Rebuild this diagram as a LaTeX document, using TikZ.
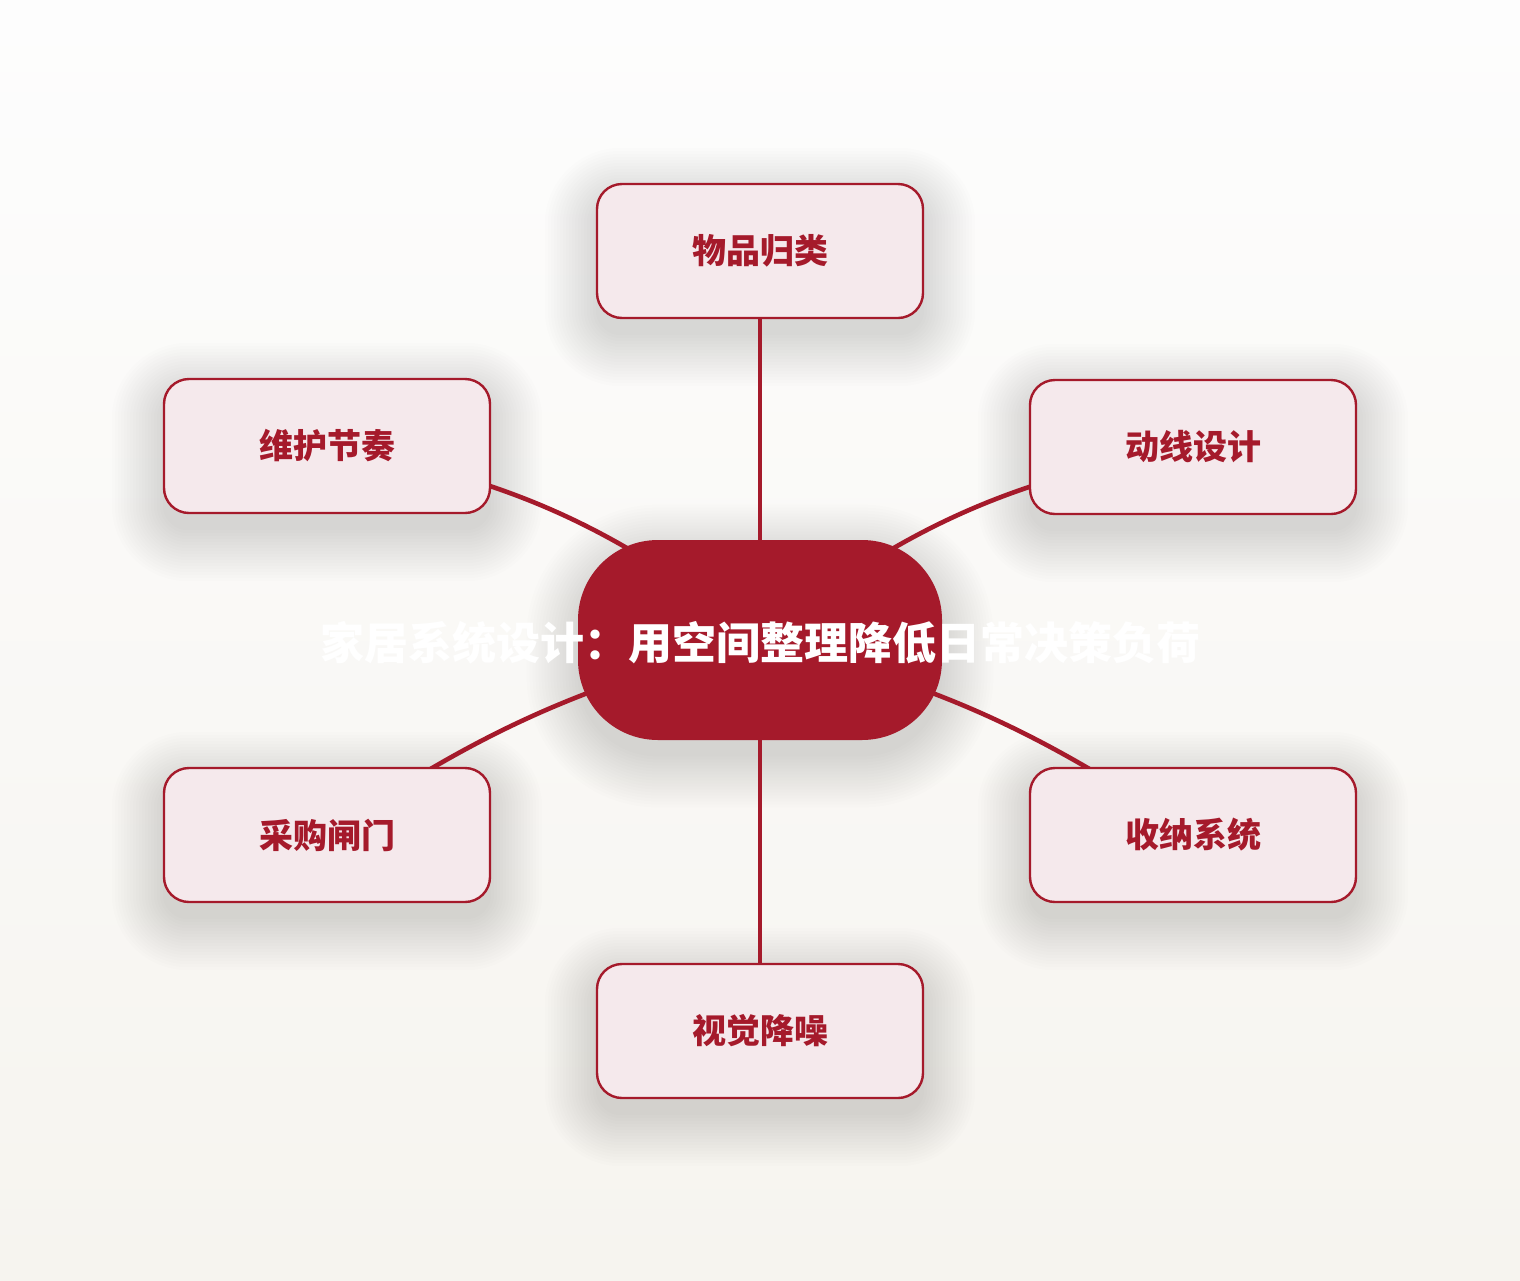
\documentclass[tikz,border=0pt]{standalone}
\usepackage{fontspec}
\newfontfamily\cjk{Noto Sans CJK SC}
\definecolor{homered}{HTML}{A51A2B}
\definecolor{boxfill}{HTML}{F5E9EC}
\definecolor{bgtop}{HTML}{FDFDFD}
\definecolor{bgbottom}{HTML}{F6F4EF}
\pgfdeclarelayer{back}
\pgfdeclarelayer{mid}
\pgfsetlayers{back,mid,main}
\tikzset{
	leaf/.style={draw=homered, line width=1.2pt, fill=boxfill, rounded corners=12.5pt,
		minimum width=163pt, minimum height=67pt, text=homered,
		font=\cjk\bfseries\fontsize{17pt}{20pt}\selectfont},
	hub/.style={fill=homered, rounded corners=40pt, minimum width=182pt, minimum height=100pt},
	hubtext/.style={text=white, font=\cjk\bfseries\fontsize{22pt}{26pt}\selectfont},
	link/.style={draw=homered, line width=2.3pt},
	haze/.style={fill=black, opacity=0.008}
}
\begin{document}
\begin{tikzpicture}[x=0.5pt, y=-0.5pt]
		%%%%% START %%%%%
		\useasboundingbox (0, 0) rectangle (1520, 1280);
		
		% centre
		\node[hub] (root) at (760, 640) {};
		\node[hubtext] (roottitle) at (760, 643) {家居系统设计：用空间整理降低日常决策负荷};
		
		% branches
		\node[leaf] (sort) at (760, 251) {物品归类};
		\node[leaf] (flow) at (1193, 447) {动线设计};
		\node[leaf] (store) at (1193, 835) {收纳系统};
		\node[leaf] (calm) at (760, 1031) {视觉降噪};
		\node[leaf] (gate) at (327, 835) {采购闸门};
		\node[leaf] (rhythm) at (327, 446) {维护节奏};
		
		\begin{pgfonlayer}{back}
			\shade[top color=bgtop, bottom color=bgbottom] (0, 0) rectangle (1520, 1280);
			% soft shadows
			\foreach \n in {sort, flow, store, calm, gate, rhythm}
				\foreach \k in {0,...,17}
					\fill[haze, rounded corners=12.5pt+1.5*\k pt]
						([shift={(-3*\k, -3*\k+16)}]\n.north west) rectangle ([shift={(3*\k, 3*\k+16)}]\n.south east);
			\foreach \k in {0,...,17}
				\fill[haze, rounded corners=40pt+1.5*\k pt]
					([shift={(-3*\k, -3*\k+16)}]root.north west) rectangle ([shift={(3*\k, 3*\k+16)}]root.south east);
		\end{pgfonlayer}
		
		\begin{pgfonlayer}{mid}
			\draw[link] (root.center) -- (sort.center);
			\draw[link] (root.center) to[bend left=14] (flow.center);
			\draw[link] (root.center) to[bend left=10] (store.center);
			\draw[link] (root.center) -- (calm.center);
			\draw[link] (root.center) to[bend right=10] (gate.center);
			\draw[link] (root.center) to[bend right=14] (rhythm.center);
		\end{pgfonlayer}
		%%%%% END %%%%%
	\end{tikzpicture}
\end{document}
